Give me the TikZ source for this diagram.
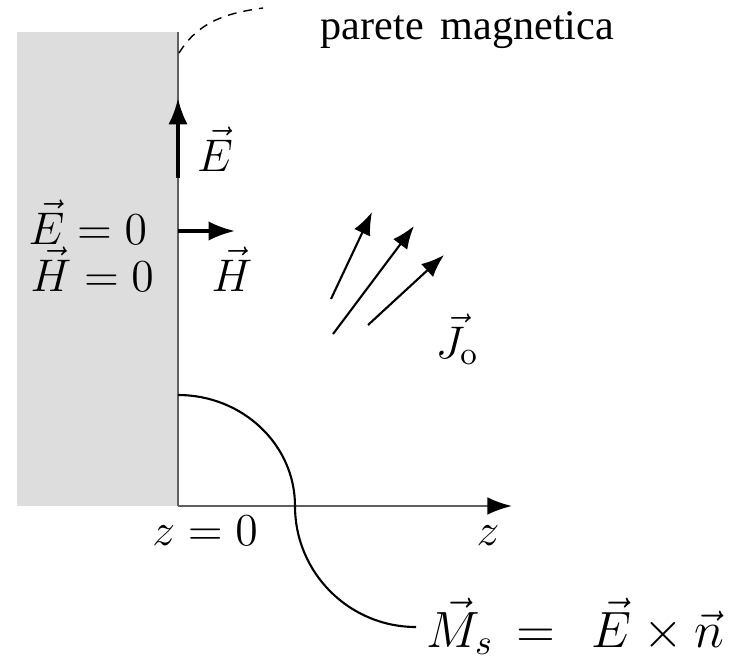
\RequirePackage{fix-cm}
\documentclass[tikz,border=0pt]{standalone}
\usepackage{amsmath,amssymb}
\usepackage{fontspec}
\newfontfamily\wallfont{Liberation Serif}
\usetikzlibrary{arrows.meta,positioning}
\usepackage{xcolor}
\definecolor{wallgray}{RGB}{221,221,221}
\definecolor{axisgray}{RGB}{95,95,95}

\begin{document}
\begin{tikzpicture}[x=0.01cm,y=0.01cm,
  field/.style={-{Latex[length=7.5pt,width=5.5pt]}, line width=1.1pt},
  current/.style={-{Latex[length=6.5pt,width=5pt]}, line width=0.6pt},
  lbl/.style={anchor=base, inner sep=0pt, font=\fontsize{13}{15}\selectfont}]
  \useasboundingbox (0,0) rectangle (755,660);

  % conductor
  \fill[wallgray] (17,154) rectangle (178,628);
  \coordinate (o) at (178,154);
  \coordinate (top) at (178,628);
  \coordinate (zend) at (512,154);
  \draw[axisgray, line width=0.6pt] (o) -- (top);
  \draw[axisgray, line width=0.6pt, -{Latex[length=7pt,width=5pt,color=black]}] (o) -- (zend);

  % magnetic wall label
  \coordinate (d0) at (179,607);
  \node[anchor=base west, inner sep=0pt] (wall) at (320,620) {\wallfont\fontsize{12}{14}\selectfont parete\hspace{0.4em}magnetica};
  \coordinate (d1) at (263,652);
  \draw[dashed, dash pattern=on 2.5pt off 2pt, line width=0.4pt] (d0) to[out=58,in=188] (d1);

  % fields on the wall
  \coordinate (e0) at (178,482);
  \coordinate (e1) at (178,562);
  \draw[field] (e0) -- (e1);
  \node[lbl] (elab) at (215,489) {$\vec E$};
  \coordinate (h0) at (178,429);
  \coordinate (h1) at (235,429);
  \draw[field, line width=0.9pt] (h0) -- (h1);
  \node[lbl] (hlab) at (232,369) {$\vec H$};

  \node[lbl, anchor=base west] (ezero) at (28,416) {$\vec E=0$};
  \node[lbl, anchor=base west] (hzero) at (30,369) {$\vec H=0$};

  % sources
  \coordinate (j1a) at (331,361);
  \coordinate (j1b) at (372,448);
  \coordinate (j2a) at (333,326);
  \coordinate (j2b) at (414,434);
  \coordinate (j3a) at (368,335);
  \coordinate (j3b) at (444,405);
  \draw[current] (j1a) -- (j1b);
  \draw[current] (j2a) -- (j2b);
  \draw[current] (j3a) -- (j3b);
  \node[lbl] (jlab) at (457,302) {$\vec J_{\mathrm{o}}$};

  % axis labels
  \node[lbl] (zzero) at (205,115) {$z=0$};
  \node[lbl] (zlab) at (488,115) {$z$};

  % equivalent magnetic current
  \node[anchor=base west, inner sep=0pt, font=\fontsize{14.5}{17}\selectfont] (ms) at (426,13)
    {$\vec M_s\,=\;\,\vec E\times\vec n$};
  \coordinate (c0) at (178,265);
  \draw[line width=0.6pt] (c0) arc[start angle=90, end angle=0, x radius=117, y radius=111]
    arc[start angle=180, end angle=270, radius=121];
\end{tikzpicture}
\end{document}
